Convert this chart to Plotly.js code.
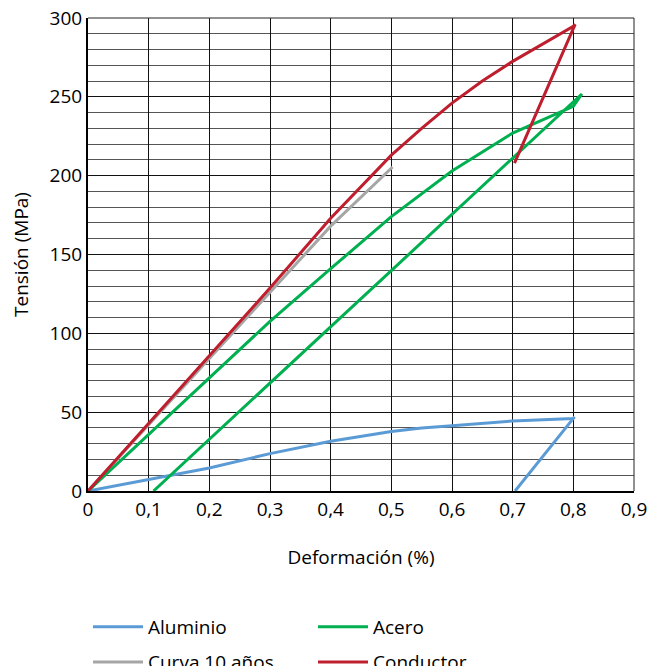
<!DOCTYPE html>
<html>
<head>
<meta charset="utf-8">
<script src="https://cdn.plot.ly/plotly-3.0.1.min.js"></script>
<style>html,body{margin:0;padding:0;background:#fff;}#chart{width:663px;height:666px;}</style>
</head>
<body>
<div id="chart"></div>
<script>
// Aluminio (blue)
const aluX = [0, 0.1, 0.2, 0.3, 0.4, 0.5, 0.55, 0.6, 0.7, 0.8, 0.802, 0.704];
const aluY = [0, 7.2, 14.6, 23.7, 31.5, 37.8, 40, 41.4, 44.4, 46, 47, 0];
// Acero (green)
const aceroX = [0, 0.1, 0.2, 0.3, 0.4, 0.5, 0.6, 0.7, 0.8, 0.814, 0.108];
const aceroY = [0, 35.7, 71.7, 107.6, 141, 174, 203, 227, 244, 251.8, 0];
// Curva 10 años (grey)
const curvaX = [0, 0.1, 0.2, 0.3, 0.4, 0.502];
const curvaY = [0, 42, 84, 126, 168, 205.5];
// Conductor (red)
const condX = [0, 0.1, 0.2, 0.3, 0.4, 0.5, 0.55, 0.6, 0.65, 0.7, 0.8, 0.803, 0.703];
const condY = [0, 43, 86, 128.7, 173, 213, 230, 246, 260, 272.5, 294.7, 296, 208];

const names = ["Aluminio", "Acero", "Curva 10 años", "Conductor"];
const colors = ["#5b9bd5", "#00b050", "#a6a6a6", "#be1e2d"];
const xTicks = [0, 0.1, 0.2, 0.3, 0.4, 0.5, 0.6, 0.7, 0.8, 0.9];
const yTicks = [0, 50, 100, 150, 200, 250, 300];

const font = "Open Sans, Noto Sans, sans-serif";

const traces = [
  {x: curvaX, y: curvaY, name: names[2], legend: "legend2", line: {color: colors[2], width: 3}},
  {x: aluX, y: aluY, name: names[0], legend: "legend", line: {color: colors[0], width: 3}},
  {x: aceroX, y: aceroY, name: names[1], legend: "legend", line: {color: colors[1], width: 3}},
  {x: condX, y: condY, name: names[3], legend: "legend2", line: {color: colors[3], width: 3}}
].map(t => Object.assign({type: "scatter", mode: "lines", hoverinfo: "skip"}, t));

const legendBase = {
  orientation: "h", x: 0, xanchor: "left", yanchor: "middle",
  font: {family: font, size: 19, color: "#000"},
  itemwidth: 50,
  entrywidth: 160, entrywidthmode: "pixels", bgcolor: "rgba(0,0,0,0)",
  traceorder: "normal"
};

const layout = {
  width: 663, height: 666,
  margin: {l: 88, r: 29, t: 18, b: 175, autoexpand: false},
  paper_bgcolor: "#fff", plot_bgcolor: "#fff",
  separators: ",.",
  font: {family: font, size: 19, color: "#000"},
  showlegend: true,
  xaxis: {
    range: [0, 0.9], tickvals: xTicks, ticktext: xTicks.map(v => String(v).replace(".", ",")),
    showgrid: true, gridcolor: "#111", gridwidth: 1,
    showline: true, linecolor: "#000", linewidth: 2, zeroline: false,
    ticks: "", ticklen: 0, automargin: false,
    tickfont: {family: font, size: 19},
    title: {text: "Deformación (%)", font: {family: font, size: 19}, standoff: 30}
  },
  yaxis: {
    range: [0, 300], tickvals: yTicks, automargin: false,
    showgrid: true, gridcolor: "#111", gridwidth: 1,
    minor: {dtick: 10, showgrid: true, gridcolor: "#555", gridwidth: 1},
    showline: true, linecolor: "#000", linewidth: 2, zeroline: false,
    ticks: "", ticklen: 0,
    tickfont: {family: font, size: 19},
    title: {text: "Tensión (MPa)", font: {family: font, size: 19}, standoff: 16}
  },
  legend: Object.assign({}, legendBase, {y: -0.2875}),
  legend2: Object.assign({}, legendBase, {y: -0.362}),
  shapes: [
    {type: "line", xref: "paper", yref: "paper", x0: 0, x1: 1, y0: 1, y1: 1, line: {color: "#222", width: 1}},
    {type: "line", xref: "paper", yref: "paper", x0: 1, x1: 1, y0: 0, y1: 1, line: {color: "#222", width: 1}}
  ]
};

Plotly.newPlot("chart", traces, layout, {staticPlot: true, displayModeBar: false});
</script>
</body>
</html>
